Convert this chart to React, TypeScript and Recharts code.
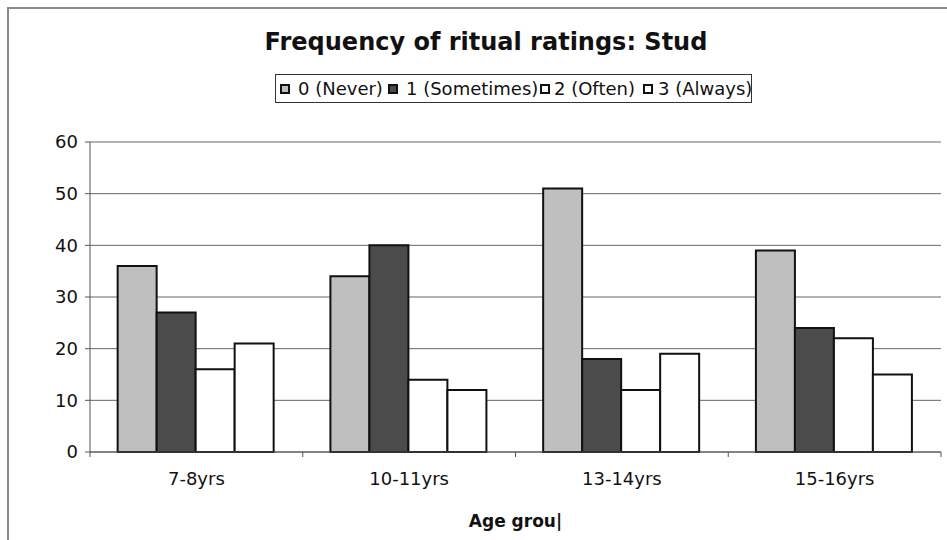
import React from 'react';
import { BarChart, Bar, XAxis, YAxis, CartesianGrid, Legend } from 'recharts';

const categories = ['7-8yrs', '10-11yrs', '13-14yrs', '15-16yrs'];
const neverValues = [36, 34, 51, 39];
const sometimesValues = [27, 40, 18, 24];
const oftenValues = [16, 14, 12, 22];
const alwaysValues = [21, 12, 19, 15];
const seriesNames = ['0 (Never)', '1 (Sometimes)', '2 (Often)', '3 (Always)'];
const seriesKeys = ['never', 'sometimes', 'often', 'always'];
const seriesColors = ['#bfbfbf', '#4b4b4b', '#ffffff', '#ffffff'];
const yTicks = [0, 10, 20, 30, 40, 50, 60];
const titleText = 'Frequency of ritual ratings: Stud';
const xAxisTitle = 'Age grou|';

const data = categories.map((c, i) => ({
  age: c,
  never: neverValues[i],
  sometimes: sometimesValues[i],
  often: oftenValues[i],
  always: alwaysValues[i],
}));

const FONT = '"DejaVu Sans", Verdana, sans-serif';
const X_TICK_SIZE = 6;
const X_TICK_MARGIN = 14;

const legendItemWidths = [108, 152, 103, 112];
const legendGaps = [8, 8, 4, 5];

const LegendBox = () => (
  <div
    style={{
      width: 477,
      height: 29,
      boxSizing: 'border-box',
      border: '1px solid #333',
      display: 'flex',
      alignItems: 'center',
      paddingLeft: 4,
      fontFamily: FONT,
      fontSize: 18,
      color: '#111',
      background: '#fff',
    }}
  >
    {seriesNames.map((name, i) => (
      <div
        key={name}
        style={{
          width: legendItemWidths[i],
          display: 'flex',
          alignItems: 'center',
          whiteSpace: 'nowrap',
          flex: 'none',
        }}
      >
        <span
          style={{
            display: 'inline-block',
            width: 10,
            height: 10,
            boxSizing: 'border-box',
            border: '2px solid #111',
            background: seriesColors[i],
            marginRight: legendGaps[i],
            flex: 'none',
          }}
        />
        <span>{name}</span>
      </div>
    ))}
  </div>
);

const CategoryTick = (props: any) => {
  const { x, y, payload, index } = props;
  const half = (payload && payload.offset) || 0;
  const axisY = y - X_TICK_SIZE - X_TICK_MARGIN;
  const isLast = index === categories.length - 1;
  return (
    <g>
      <line x1={x - half} x2={x - half} y1={axisY} y2={axisY + 5} stroke="#555" strokeWidth={1} />
      {isLast && <line x1={x + half} x2={x + half} y1={axisY} y2={axisY + 5} stroke="#555" strokeWidth={1} />}
      <text x={x} y={y} dy="0.71em" textAnchor="middle" fill="#111" fontSize={18} fontFamily={FONT}>
        {payload.value}
      </text>
    </g>
  );
};

export default function App() {
  return (
    <div style={{ position: 'absolute', left: 0, top: 0, width: 947, height: 540, background: '#fff', overflow: 'hidden' }}>
      <div style={{ position: 'absolute', left: 7, top: 7, width: 960, height: 560, borderTop: '2px solid #8a8a8a', borderLeft: '2px solid #8a8a8a' }} />
      <div
        style={{
          position: 'absolute',
          left: 0,
          width: 972,
          top: 30,
          textAlign: 'center',
          fontFamily: FONT,
          fontWeight: 'bold',
          fontSize: 24,
          lineHeight: 1,
          color: '#111',
        }}
      >
        {titleText}
      </div>
      <div style={{ position: 'absolute', left: 0, top: 0 }}>
        <BarChart
          width={947}
          height={540}
          data={data}
          margin={{ top: 113, right: 6, left: 0, bottom: 0 }}
          barCategoryGap="13%"
          barGap={0}
        >
          <CartesianGrid xAxisId="cat" vertical={false} stroke="#666" strokeWidth={1} />
          <XAxis
            xAxisId="cat"
            dataKey="age"
            height={88}
            axisLine={{ stroke: '#555' }}
            tickLine={false}
            tickSize={X_TICK_SIZE}
            tickMargin={X_TICK_MARGIN}
            tick={<CategoryTick />}
            interval={0}
            label={{
              value: xAxisTitle,
              position: 'insideBottom',
              offset: 13,
              style: { fontFamily: FONT, fontSize: 17, fontWeight: 'bold', fill: '#111' },
            }}
          />
          <YAxis
            width={90}
            domain={[0, 60]}
            ticks={yTicks}
            interval={0}
            axisLine={{ stroke: '#555' }}
            tickLine={{ stroke: '#555' }}
            tickSize={5}
            tickMargin={7}
            tick={{ fill: '#111', fontSize: 18, fontFamily: FONT }}
          />
          <Legend
            verticalAlign="top"
            content={<LegendBox />}
            wrapperStyle={{ position: 'absolute', top: 74, left: 275, width: 477, height: 29 }}
          />
          {seriesKeys.map((k, i) => (
            <Bar
              key={k}
              xAxisId="cat"
              dataKey={k}
              name={seriesNames[i]}
              fill={seriesColors[i]}
              stroke="#111"
              strokeWidth={2}
              isAnimationActive={false}
            />
          ))}
        </BarChart>
      </div>
    </div>
  );
}
